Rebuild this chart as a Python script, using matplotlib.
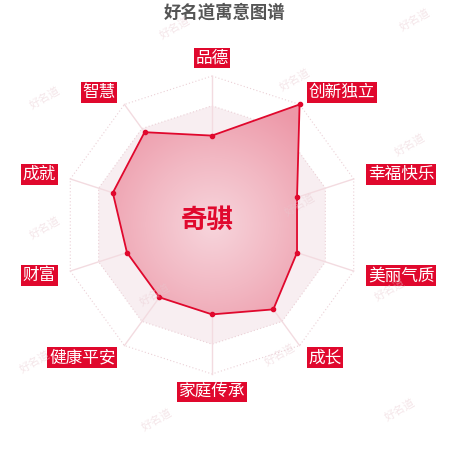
import numpy as np
import matplotlib
matplotlib.use("Agg")
import matplotlib.pyplot as plt
from matplotlib.patches import Polygon
from matplotlib.colors import LinearSegmentedColormap

plt.rcParams['font.family'] = ['Noto Sans CJK SC', 'DejaVu Sans']

# data
categories = ["品德", "创新独立", "幸福快乐", "美丽气质", "成长",
              "家庭传承", "健康平安", "财富", "成就", "智慧"]
values = [60, 100, 60, 60, 70, 60, 60, 60, 70, 77]
max_value = 100
rings = [20, 40, 60, 80, 100]
name = "奇骐"
title = "好名道寓意图谱"

RED = "#e0082d"

n = len(categories)
ang = np.deg2rad(np.arange(n) * 360.0 / n)   # clockwise from top


def to_xy(r, a):
    return r * np.sin(a), r * np.cos(a)


fig = plt.figure(figsize=(4.5, 4.5), dpi=100)
ax = fig.add_axes([0, 0, 1, 1])
ax.set_xlim(-212 / 149, (450 - 212) / 149)
ax.set_ylim(-225 / 149, 225 / 149)
ax.set_aspect("equal")
ax.axis("off")

# split area bands + rings
band_cols = ["#fcf6f7", "#fbf3f5", "#faf2f4", "#f8eef1", "#ffffff"]
for i in range(len(rings) - 1, -1, -1):
    r = rings[i] / max_value
    xs, ys = to_xy(r, ang)
    ax.add_patch(Polygon(np.column_stack([xs, ys]), closed=True,
                         facecolor=band_cols[i], edgecolor="none", zorder=1))
for rv in rings:
    r = rv / max_value
    xs, ys = to_xy(r, ang)
    ax.plot(np.append(xs, xs[0]), np.append(ys, ys[0]), ls=(0, (1, 2)),
            lw=0.8, color="#ebd0d6", zorder=2)
for a in ang:
    x, y = to_xy(1.0, a)
    ax.plot([0, x], [0, y], lw=1.0, color="#f3dbe0", zorder=2)

# data area with radial gradient
r_vals = np.array(values) / max_value
xs, ys = to_xy(r_vals, ang)
poly = Polygon(np.column_stack([xs, ys]), closed=True, facecolor="none",
               edgecolor="none", zorder=3)
ax.add_patch(poly)
g = np.linspace(-1.05, 1.05, 300)
gx, gy = np.meshgrid(g, g)
dist = np.sqrt(gx ** 2 + gy ** 2)
cmap = LinearSegmentedColormap.from_list("rg", ["#f7d5dc", "#f2b8c3", "#ed98a8"])
im = ax.imshow(dist, cmap=cmap, vmin=0, vmax=0.9, extent=(-1.05, 1.05, -1.05, 1.05),
               origin="lower", zorder=3, interpolation="bilinear")
im.set_clip_path(poly)
ax.plot(np.append(xs, xs[0]), np.append(ys, ys[0]), color=RED, lw=1.3, zorder=4)
ax.scatter(xs, ys, s=9, color=RED, zorder=5)

# axis labels
lab_r = 1.1
for cat, a in zip(categories, ang):
    x, y = to_xy(lab_r, a)
    s = np.sin(a)
    if abs(s) < 0.1:
        ha = "center"
    elif s > 0:
        ha = "left"
    else:
        ha = "right"
    c = np.cos(a)
    if abs(c) > 0.95:
        y += 0.02 * np.sign(c)
    ax.text(x, y, cat, ha=ha, va="center", fontsize=12, color="white",
            bbox=dict(boxstyle="square,pad=0.1", facecolor=RED, edgecolor="none"),
            zorder=6)

ax.text(-0.03, 0.03, name, ha="center", va="center", fontsize=19,
        fontweight="bold", color=RED, zorder=6)
fig.text(0.5, 1 - 13 / 450, title, ha="center", va="center", fontsize=12.5,
         fontweight="bold", color="#555555")

# watermarks
wm = [(175, 28), (415, 20), (45, 98), (295, 80), (410, 145), (300, 205),
      (45, 228), (155, 295), (390, 290), (280, 355), (400, 410), (35, 362), (157, 420)]
for px, py in wm:
    fig.text(px / 450, 1 - py / 450, "好名道", rotation=30, fontsize=8,
             color="#e8c8cf", alpha=0.45, ha="center", va="center", zorder=10)

fig.savefig("out.png", dpi=100)
